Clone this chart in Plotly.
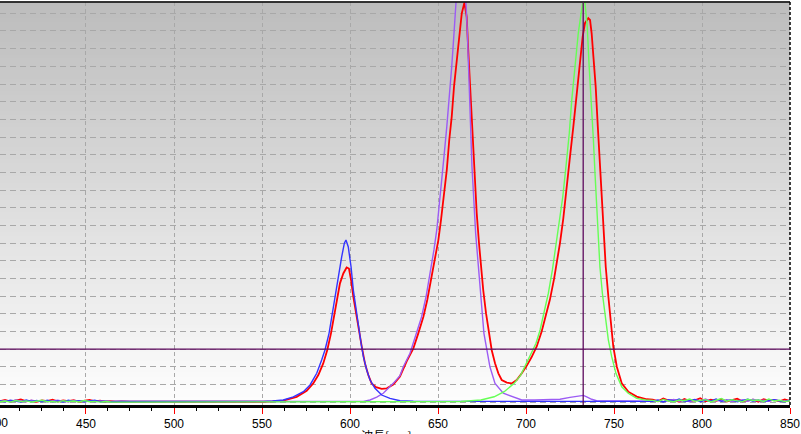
import plotly.graph_objects as go

# ---------------- data ----------------
# y unit = one horizontal grid step; 0 = spectrum baseline
noise_left_wl = [401, 404, 407, 410, 413, 416, 419, 422, 425, 428, 431, 434,
                 437, 440, 443, 446, 449, 452, 455, 458, 461, 464, 467, 470]
noise_right_wl = [772, 775, 778, 781, 784, 787, 790, 793, 796, 799, 802, 805,
                  808, 811, 814, 817, 820, 823, 826, 829, 832, 835, 838, 841,
                  844, 847, 850]

red_noise_left = [0.05, 0.12, 0.03, 0.10, 0.15, 0.04, 0.08, 0.02, 0.10, 0.06, 0.14, 0.03,
                  0.09, 0.05, 0.11, 0.02, 0.07, 0.12, 0.04, 0.08, 0.03, 0.06, 0.02, 0.04]
blue_noise_left = [0.08, 0.02, 0.10, 0.05, 0.01, 0.12, 0.04, 0.09, 0.02, 0.11, 0.03, 0.07,
                   0.01, 0.10, 0.04, 0.08, 0.02, 0.06, 0.11, 0.03, 0.05, 0.02, 0.04, 0.03]
purple_noise_left = [0.04, 0.09, 0.02, 0.12, 0.06, 0.03, 0.10, 0.05, 0.08, 0.02, 0.07, 0.11,
                     0.04, 0.02, 0.09, 0.05, 0.03, 0.08, 0.02, 0.06, 0.04, 0.03, 0.05, 0.03]
green_noise_left = [0.02, 0.06, 0.00, 0.09, 0.03, 0.07, 0.01, 0.05, 0.10, 0.02, 0.04, 0.00,
                    0.08, 0.03, 0.06, 0.01, 0.09, 0.02, 0.04, 0.00, 0.03, 0.01, 0.02, 0.00]

red_noise_right = [0.14, 0.05, 0.20, 0.08, 0.12, 0.02, 0.18, 0.06, 0.10, 0.22, 0.04, 0.13,
                   0.07, 0.16, 0.03, 0.11, 0.19, 0.05, 0.09, 0.14, 0.02, 0.17, 0.08, 0.12,
                   0.04, 0.15, 0.06]
blue_noise_right = [0.04, 0.10, 0.01, 0.13, 0.06, 0.17, 0.03, 0.09, 0.15, 0.02, 0.11, 0.05,
                    0.18, 0.04, 0.08, 0.13, 0.02, 0.10, 0.16, 0.05, 0.12, 0.03, 0.09, 0.14,
                    0.06, 0.02, 0.10]
purple_noise_right = [0.06, 0.12, 0.03, 0.09, 0.15, 0.05, 0.11, 0.02, 0.13, 0.07, 0.18, 0.04,
                      0.10, 0.06, 0.14, 0.03, 0.08, 0.12, 0.05, 0.16, 0.07, 0.10, 0.04, 0.13,
                      0.08, 0.05, 0.11]
green_noise_right = [0.10, 0.03, 0.15, 0.06, 0.02, 0.12, 0.08, 0.17, 0.04, 0.09, 0.14, 0.01,
                     0.11, 0.20, 0.05, 0.13, 0.07, 0.03, 0.16, 0.09, 0.12, 0.04, 0.18, 0.06,
                     0.10, 0.03, 0.08]

blue_wl = [475, 500, 525, 545, 550.7, 556, 562.1, 567.8, 573.5, 577.3, 581.1, 583.9,
           585.8, 588.1, 589.6, 591.5, 593.4, 595.3, 596.8, 597.7, 599.0, 600.6, 601.9,
           603.4, 604.7, 606.3, 607.6, 609.5, 611.4, 614.2, 618.0, 622.7, 628.4, 636.0,
           660, 700, 740, 769]
blue_val = [0.03, 0.02, 0.03, 0.03, 0.04, 0.07, 0.12, 0.30, 0.59, 0.97, 1.63, 2.38,
            2.95, 3.89, 4.83, 5.96, 7.10, 8.23, 8.99, 9.17, 8.79, 7.66, 6.34,
            5.21, 4.27, 3.33, 2.57, 1.82, 1.25, 0.78, 0.40, 0.21, 0.08, 0.05,
            0.04, 0.03, 0.04, 0.05]

red_wl = [475, 500, 525, 545, 550.7, 556, 562.1, 569.7, 575.4, 579.1, 582.0, 584.8,
          587.1, 589.2, 591.1, 592.8, 594.3, 596.2, 598.1, 599.4, 600.6, 601.9, 603.4,
          605.1, 606.7, 608.5, 610.4, 612.3, 614.8, 618.0, 620.9, 624.6, 628.4, 632.2,
          636.0, 638.8, 641.7, 643.9, 646.0, 648.3, 650.2, 651.7, 653.4, 655.0, 656.4,
          657.8, 659.1, 660.6, 662.1, 663.5, 665.0, 666.3, 667.2, 668.2, 669.1, 670.1,
          671.0, 672.0, 673.3, 674.4, 675.7, 677.3, 679.1, 680.5, 682.4, 684.3, 686.2,
          689.1, 691.9, 694.7, 697.6, 700.4, 703.2, 706.1, 708.9, 711.4, 713.6, 716.0,
          718.0, 719.3, 721.2, 723.1, 725.0, 726.9, 728.4, 729.7, 731.1, 732.2, 733.5,
          735.4, 736.4, 737.3, 738.3, 739.6, 740.8, 742.0, 743.0, 743.9, 745.3, 746.8,
          748.1, 749.6, 751.6, 754.4, 758.1, 762.9, 768.6]
red_val = [0.03, 0.02, 0.03, 0.02, 0.02, 0.04, 0.08, 0.30, 0.64, 1.06, 1.53, 2.19,
           2.95, 3.89, 5.02, 5.96, 6.72, 7.28, 7.62, 7.56, 6.91, 5.96, 5.02,
           3.98, 3.13, 2.19, 1.53, 1.06, 0.85, 0.75, 0.78, 1.00, 1.45, 2.30,
           3.04, 3.89, 4.83, 5.78, 6.91, 8.04, 9.17, 10.30, 11.62, 13.14, 14.83,
           16.15, 17.85, 19.36, 20.87, 22.00, 22.60, 21.80, 19.90, 18.04, 16.15, 14.27,
           12.38, 10.68, 8.99, 7.66, 6.34, 5.02, 3.70, 2.95, 2.20, 1.63, 1.25,
           1.10, 1.06, 1.25, 1.63, 2.05, 2.55, 3.15, 4.00, 4.90, 5.80, 7.00,
           8.20, 9.00, 10.40, 12.00, 13.89, 15.59, 17.10, 18.42, 19.55, 20.68, 21.44,
           21.72, 21.62, 20.87, 19.55, 17.85, 15.59, 13.32, 11.44, 9.55, 7.66, 5.96,
           4.65, 3.14, 2.00, 1.06, 0.59, 0.31, 0.16]

purple_wl = [475, 500, 550, 600, 607.6, 611.4, 615.2, 618.9, 624.6, 628.4, 630.3, 634.1,
             637.9, 640.7, 643.2, 645.5, 647.7, 649.3, 650.7, 652.1, 653.4, 655.0, 656.3,
             657.8, 659.1, 660.2, 662.9, 665.9, 666.7, 667.8, 669.3, 671.4, 674.3, 676.1,
             679.5, 682.4, 687.1, 692.8, 697.6, 705, 712, 719.3, 725.0, 729.7, 732.6,
             734.5, 737.3, 740.1, 750, 765]
purple_val = [0.03, 0.03, 0.03, 0.03, 0.04, 0.12, 0.28, 0.50, 1.06, 1.50, 2.00, 2.76,
              3.89, 4.83, 5.96, 7.29, 8.61, 9.74, 11.06, 12.57, 13.89, 15.59, 17.10,
              18.98, 20.87, 22.57, 24.70, 22.57, 20.87, 17.10, 13.32, 9.55, 5.78, 3.89,
              2.00, 1.06, 0.50, 0.27, 0.12, 0.12, 0.13, 0.16, 0.27, 0.35, 0.38,
              0.30, 0.16, 0.08, 0.06, 0.05]

green_wl = [475, 500, 550, 600, 640, 663.1, 674.4, 681.9, 687.6, 693.3, 697.0, 700.4,
            703.2, 705.7, 708.0, 710.2, 712.7, 715.0, 717.0, 718.9, 720.9, 722.7, 724.6,
            726.0, 727.8, 729.7, 731.3, 732.2, 732.7, 733.5, 734.8, 735.9, 737.3, 738.3,
            739.2, 740.2, 741.1, 742.0, 743.4, 744.9, 746.8, 748.7, 751.1, 754.4, 758.1,
            762.9, 768]
green_val = [0.00, 0.00, 0.00, 0.00, 0.01, 0.03, 0.12, 0.30, 0.59, 1.06, 1.53, 2.20,
             2.76, 3.33, 4.08, 5.02, 6.16, 7.48, 8.80, 10.12, 11.62, 13.32, 15.21,
             17.10, 18.98, 20.87, 22.00, 22.57, 22.90, 22.57, 21.25, 18.98, 16.72, 14.83,
             12.95, 11.06, 9.17, 7.66, 6.16, 4.83, 3.51, 2.57, 1.63, 0.87, 0.50,
             0.21, 0.12]

x_ticks = [400, 450, 500, 550, 600, 650, 700, 750, 800, 850]
cursor_wl = 732.5
cursor_level = 3

# ---------------- figure ----------------
X0, X1 = 401.14, 850.0
Y0, Y1 = -0.164, 22.64

fig = go.Figure()

series = [
    ("red", "#ff0000", 1.8, red_noise_left, red_wl, red_val, red_noise_right),
    ("purple", "#9c5cf4", 1.4, purple_noise_left, purple_wl, purple_val, purple_noise_right),
    ("blue", "#3434ff", 1.4, blue_noise_left, blue_wl, blue_val, blue_noise_right),
    ("green", "#66ff55", 1.4, green_noise_left, green_wl, green_val, green_noise_right),
]
for name, col, w, nl, wl, val, nr in series:
    fig.add_trace(go.Scatter(
        x=noise_left_wl + wl + noise_right_wl,
        y=nl + val + nr,
        mode="lines", line=dict(color=col, width=w), name=name,
        showlegend=False, hoverinfo="skip"))

# background gradient (bands below the grid)
shapes = []
nb = 100
top_c, bot_c = 188, 254
for i in range(nb):
    f0, f1 = i / nb, (i + 1) / nb
    c = round(bot_c + (top_c - bot_c) * (f0 + f1) / 2)
    shapes.append(dict(type="rect", xref="paper", yref="paper", x0=0, x1=1,
                       y0=f0, y1=f1 + 0.002, fillcolor=f"rgb({c},{c},{c})",
                       line=dict(width=0), layer="below"))
# top border
shapes.append(dict(type="line", xref="paper", yref="paper", x0=0, x1=1, y0=1, y1=1,
                   line=dict(color="black", width=1.5)))
# right dashed border
shapes.append(dict(type="line", xref="paper", yref="paper", x0=1, x1=1, y0=0, y1=1,
                   line=dict(color="black", width=1.5, dash="3px,2px")))
# cursor lines
shapes.append(dict(type="line", xref="x", yref="paper", x0=cursor_wl, x1=cursor_wl,
                   y0=0, y1=1, line=dict(color="#5e0a5e", width=1.3)))
shapes.append(dict(type="line", xref="paper", yref="y", x0=0, x1=1,
                   y0=cursor_level, y1=cursor_level, line=dict(color="#5e0a5e", width=1.3)))

fig.update_layout(
    width=801, height=434,
    margin=dict(l=0, r=11, t=2, b=29, pad=0, autoexpand=False),
    paper_bgcolor="white", plot_bgcolor="white",
    shapes=shapes,
    xaxis=dict(range=[X0, X1], tickmode="array", tickvals=x_ticks,
               ticktext=[str(v) for v in x_ticks],
               showgrid=True, gridcolor="#a8a8a8", gridwidth=1, griddash="4px,3px",
               ticks="outside", ticklen=6, tickwidth=1, tickcolor="red",
               minor=dict(dtick=12.5, tick0=400, ticks="outside", ticklen=3,
                          tickcolor="black", tickwidth=1, showgrid=False),
               showline=True, linecolor="black", linewidth=2.5,
               tickfont=dict(family="Liberation Sans, Arial", size=12, color="black"),
               zeroline=False, fixedrange=True, automargin=False),
    yaxis=dict(range=[Y0, Y1], dtick=1, tick0=0, showticklabels=False,
               showgrid=True, gridcolor="#a8a8a8", gridwidth=1, griddash="6px,4px",
               zeroline=False, showline=False, ticks="", fixedrange=True, automargin=False),
    annotations=[
        dict(text="400", xref="paper", yref="paper", x=-2 / 790, y=-(414 - 405) / 403,
             xanchor="center", yanchor="top", showarrow=False,
             font=dict(family="Liberation Sans, Arial", size=12, color="black")),
        dict(text="波長[nm]", xref="paper", yref="paper", x=386 / 790, y=-(425 - 405) / 403,
             xanchor="center", yanchor="top", showarrow=False,
             font=dict(family="Noto Sans CJK JP", size=12, color="black")),
    ],
)

fig.write_html("out.html",
               config={"displayModeBar": False, "staticPlot": True},
               post_script="document.body.style.margin='0px';"
                           "document.body.style.overflow='hidden';")
